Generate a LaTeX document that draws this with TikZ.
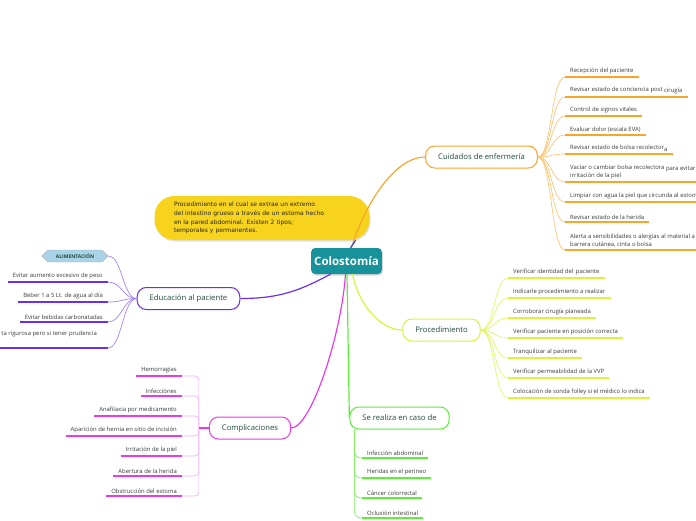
\documentclass[tikz,border=0pt]{standalone}
\usepackage{fontspec}
\setmainfont{Open Sans}
\newfontfamily\notefont{DejaVu Sans}
\usetikzlibrary{shapes.symbols, shadows}

\definecolor{colTeal}{HTML}{17919A}
\definecolor{colNote}{HTML}{F7D31E}
\definecolor{colOrange}{HTML}{F9A52B}
\definecolor{colPurple}{HTML}{6B2EF0}
\definecolor{colLime}{HTML}{D8F53C}
\definecolor{colGreen}{HTML}{5CEF3A}
\definecolor{colMagenta}{HTML}{E83AE8}
\definecolor{colBlue}{HTML}{2C4BE6}
\definecolor{colTitle}{HTML}{1E4A3C}
\definecolor{colLeaf}{HTML}{3A3A3A}
\definecolor{colAlim}{HTML}{A9D3E6}

\tikzset{
  central/.style={fill=colTeal, rounded corners=4pt, text=white, font=\fontsize{11.5}{13}\selectfont\bfseries,
    minimum height=26pt, inner xsep=3pt, drop shadow={opacity=0.3, shadow xshift=1pt, shadow yshift=-1.5pt}},
  note/.style={fill=colNote, rounded corners=20pt, text=black!85, font=\notefont\fontsize{6}{8.7}\selectfont,
    text width=176pt, inner xsep=19.5pt, minimum height=44pt, align=left,
    drop shadow={opacity=0.25, shadow xshift=1pt, shadow yshift=-1.5pt}},
  topic/.style={draw=#1, line width=1pt, fill=white, rounded corners=9pt, font=\fontsize{7.7}{9}\selectfont,
    text=colTitle, minimum height=22pt, inner xsep=12.5pt},
  leaf/.style={font=\fontsize{5.9}{8}\selectfont, text=colLeaf, inner xsep=5pt, inner ysep=2.5pt, align=left,
    append after command={(\tikzlastnode.south west) edge[draw=#1, line width=1.6pt] (\tikzlastnode.south east)}},
  twig/.style={draw=#1, line width=0.7pt},
  branch/.style={draw=#1, line width=1.2pt},
  alim/.style={signal, signal to=west and east, fill=colAlim, draw=gray!60, line width=0.4pt,
    font=\fontsize{5}{6}\selectfont\bfseries, text=colTitle, minimum width=66pt, minimum height=12pt, inner sep=1pt},
}

\begin{document}
\begin{tikzpicture}[x=1pt, y=-1pt]
\useasboundingbox (0,0) rectangle (696,520);

\node[note] (nota) at (262,218) {Procedimiento en el cual se extrae un extremo\\del intestino grueso a través de un estoma hecho\\en la pared abdominal. Existen 2 tipos;\\temporales y permanentes.};
\node[central] (colo) at (346.5,261) {Colostomía};

\node[topic=colOrange] (cuid) at (481.5,157) {Cuidados de enfermería};
\node[topic=colPurple] (edu) at (188.5,298.5) {Educación al paciente};
\node[topic=colLime] (proc) at (441.5,330) {Procedimiento};
\node[topic=colGreen] (caso) at (399.5,418) {Se realiza en caso de};
\node[topic=colMagenta] (comp) at (250,428) {Complicaciones};

\draw[branch=colOrange] ([xshift=5pt]colo.north) .. controls +(12,-40) and +(-32,0) .. (cuid.west);
\draw[branch=colBlue] ([xshift=4pt]colo.north) -- ([xshift=-14pt]nota.south east);
\draw[branch=colPurple] ([xshift=-16pt]colo.south) .. controls +(-30,16) and +(40,0) .. (edu.east);
\draw[branch=colLime] ([xshift=6pt]colo.south) .. controls +(6,30) and +(-22,0) .. (proc.west);
\draw[branch=colGreen] ([xshift=0.5pt]colo.south) -- (caso.west);
\draw[branch=colMagenta] ([xshift=-1pt]colo.south) .. controls +(-4,60) and +(20,0) .. (comp.east);

\node[leaf=colOrange, anchor=south west] (r1) at (565,77) {Recepción del paciente};
\node[leaf=colOrange, anchor=south west] (r2) at (565,97) {Revisar estado de conciencia post \raisebox{-1pt}{cirugía}};
\node[leaf=colOrange, anchor=south west] (r3) at (565,116) {Control de signos vitales};
\node[leaf=colOrange, anchor=south west] (r4) at (565,135) {Evaluar dolor (escala EVA)};
\node[leaf=colOrange, anchor=south west] (r5) at (565,154) {Revisar estado de bolsa recolector\raisebox{-1.5pt}{a}};
\node[leaf=colOrange, anchor=south west] (r6) at (565,182) {Vaciar o cambiar bolsa recolectora \raisebox{-1pt}{para evitar}\\irritación de la piel};
\node[leaf=colOrange, anchor=south west] (r7) at (565,202) {Limpiar con agua la piel que circunda al estoma};
\node[leaf=colOrange, anchor=south west] (r8) at (565,222) {Revisar estado de la herida};
\node[leaf=colOrange, anchor=south west] (r9) at (565,250) {Alerta a sensibilidades o alergias al material a\\barrera cutánea, cinta o bolsa};
\foreach \n in {r1,r2,r3,r4,r5,r6,r7,r8,r9}
  \draw[twig=colOrange!65] (cuid.east) .. controls +(14,0) and +(-14,0) .. (\n.south west);

\node[leaf=colLime, anchor=south west] (p1) at (508,278) {Verificar identidad del\, paciente};
\node[leaf=colLime, anchor=south west] (p2) at (508,298) {Indicarle procedimiento a realizar};
\node[leaf=colLime, anchor=south west] (p3) at (508,318) {Corroborar cirugía planeada};
\node[leaf=colLime, anchor=south west] (p4) at (508,338) {Verificar paciente en posición correcta};
\node[leaf=colLime, anchor=south west] (p5) at (508,358) {Tranquilizar al paciente};
\node[leaf=colLime, anchor=south west] (p6) at (508,378) {Verificar permeabilidad de la VVP};
\node[leaf=colLime, anchor=south west] (p7) at (508,398) {Colocación de sonda folley si el médico lo indica};
\foreach \n in {p1,p2,p3,p4,p5,p6,p7}
  \draw[twig=colLime!80] (proc.east) .. controls +(14,0) and +(-14,0) .. (\n.south west);

\node[leaf=colGreen, anchor=south west] (g1) at (362,458) {Infección abdominal};
\node[leaf=colGreen, anchor=south west] (g2) at (362,478) {Heridas en el perineo};
\node[leaf=colGreen, anchor=south west] (g3) at (362,498) {Cáncer colorrectal};
\node[leaf=colGreen, anchor=south west] (g4) at (362,518) {Oclusión intestinal};
\coordinate (stem) at ([xshift=5pt]caso.south west);
\foreach \n in {g1,g2,g3,g4}
  \draw[twig=colGreen!80, rounded corners=7pt] (stem) |- (\n.south west);

\node[alim] (a0) at (75,256) {ALIMENTACIÓN};
\node[leaf=colPurple, anchor=south east] (e1) at (108,282) {Evitar aumento excesivo de peso};
\node[leaf=colPurple, anchor=south east] (e2) at (108,302) {Beber 1 a 5 Lt. de agua al día};
\node[leaf=colPurple, anchor=south east] (e3) at (108,322) {Evitar bebidas carbonatadas};
\node[leaf=colPurple, anchor=south east, text depth=10pt] (e4) at (108,348) {ta rigurosa pero si tener prudencia\hspace{6pt}};
\foreach \n in {a0.east,e1.south east,e2.south east,e3.south east,e4.south east}
  \draw[twig=colPurple!60] (edu.west) .. controls +(-14,0) and +(14,0) .. (\n);

\node[leaf=colMagenta, anchor=south east] (c1) at (182,376) {Hemorragias};
\node[leaf=colMagenta, anchor=south east] (c2) at (182,396) {Infecciónes};
\node[leaf=colMagenta, anchor=south east] (c3) at (182,416) {Anafilaxia por medicamento};
\node[leaf=colMagenta, anchor=south east] (c4) at (182,436) {Aparición de hernia en sitio de incisión};
\node[leaf=colMagenta, anchor=south east] (c5) at (182,456) {Irritación de la piel};
\node[leaf=colMagenta, anchor=south east] (c6) at (182,476) {Abertura de la herida};
\node[leaf=colMagenta, anchor=south east] (c7) at (182,496) {Obstrucción del estoma};
\coordinate (cbar) at ([xshift=-10pt]comp.west);
\foreach \n in {c1,c2,c3,c4,c5,c6,c7}
  \draw[twig=colMagenta!40, rounded corners=4pt] (\n.south east) -| (cbar);
\draw[colMagenta, line width=1.6pt] (comp.west) -- (cbar);
\end{tikzpicture}
\end{document}
